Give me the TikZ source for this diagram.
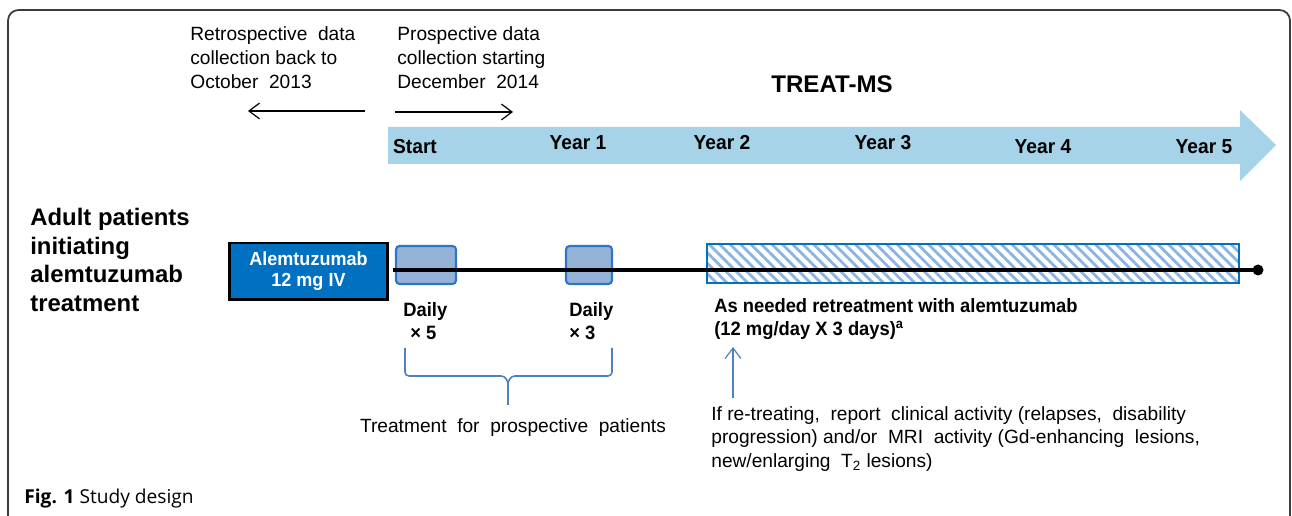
\documentclass[tikz,border=0pt]{standalone}
\usepackage{fontspec}
\setmainfont{Liberation Sans}
\newfontfamily\narrowfont[FakeStretch=0.95]{Liberation Sans}
\newfontfamily\capfont{Open Sans}
\usepackage{tikz}
\usetikzlibrary{arrows.meta, patterns.meta}

\definecolor{bandblue}{RGB}{166,211,232}
\definecolor{alemblue}{RGB}{0,112,192}
\definecolor{dosefill}{RGB}{149,179,215}
\definecolor{doseline}{RGB}{46,117,200}
\definecolor{hatchblue}{RGB}{140,180,226}
\definecolor{braceblue}{RGB}{79,129,189}
\definecolor{framegray}{RGB}{60,60,60}

\begin{document}
\begin{tikzpicture}[x=0.02cm, y=-0.02cm,
		plain/.style={inner sep=0pt, align=left, font=\fontsize{10.9}{13.6}\selectfont},
		yearlbl/.style={inner sep=0pt, font=\narrowfont\bfseries\fontsize{11.5}{13}\selectfont},
		dosebox/.style={draw=doseline, fill=dosefill, line width=1.2pt, rounded corners=2pt, minimum height=0.76cm},
		dosetxt/.style={inner sep=0pt, align=left, font=\narrowfont\bfseries\fontsize{11}{13}\selectfont},
		thinarrow/.style={-{Straight Barb[length=6pt, width=9pt]}, line width=0.7pt}]
	
	\useasboundingbox (0,0) rectangle (1292,516);
	
	% frame, open at the bottom
	\draw[framegray, line width=1pt, rounded corners=6pt] (8,530) -- (8,10) -- (1290,10) -- (1290,530);
	
	% data collection notes
	\node[plain, anchor=west] (retro) at (190,58) {Retrospective\ \ data\\collection back to\\October\ \ 2013};
	\node[plain, anchor=west] (prosp) at (397,58) {Prospective data\\collection starting\\December\ \ 2014};
	\coordinate (retroA) at (365,111);
	\coordinate (retroB) at (248,111);
	\coordinate (prospA) at (395,112);
	\coordinate (prospB) at (513,112);
	\draw[thinarrow] (retroA) -- (retroB);
	\draw[thinarrow] (prospA) -- (prospB);
	
	% study timeline
	\node[inner sep=0pt, font=\bfseries\fontsize{13.7}{15}\selectfont] (treatms) at (832,84) {TREAT-MS};
	\fill[bandblue] (388,127) -- (1240,127) -- (1240,110) -- (1276,145) -- (1240,181) -- (1240,164) -- (388,164) -- cycle;
	\node[yearlbl] (start) at (415,147) {Start};
	\node[yearlbl] (y1) at (578,143) {Year 1};
	\node[yearlbl] (y2) at (722,143) {Year 2};
	\node[yearlbl] (y3) at (883,143) {Year 3};
	\node[yearlbl] (y4) at (1043,147) {Year 4};
	\node[yearlbl] (y5) at (1204,147) {Year 5};
	
	% patients
	\node[inner sep=0pt, anchor=west, align=left, font=\bfseries\fontsize{13.6}{16.2}\selectfont] (adult) at (30,260) {Adult patients\\initiating\\alemtuzumab\\treatment};
	
	% treatment courses
	\node[draw=black, fill=alemblue, line width=1.7pt, minimum width=3.18cm, minimum height=1.14cm, align=center, text=white, font=\narrowfont\bfseries\fontsize{10.8}{12}\selectfont] (alem) at (308.5,271.5) {Alemtuzumab\\12 mg IV};
	\node[dosebox, minimum width=1.2cm] (dose1) at (426,265) {};
	\node[dosebox, minimum width=0.92cm] (dose2) at (589,265) {};
	\node[draw=alemblue, line width=1.2pt, minimum width=10.64cm, minimum height=0.78cm, pattern={Lines[angle=-45, distance=4.2pt, line width=1.6pt]}, pattern color=hatchblue] (retreat) at (973,263.5) {};
	\coordinate (lineend) at (1258,270);
	\draw[line width=2pt] (alem.east |- lineend) ++(4,0) -- (lineend);
	\fill (lineend) circle (5.5);
	
	\node[dosetxt, anchor=west] (daily1) at (403,321) {Daily\\\hspace{4pt}× 5};
	\node[dosetxt, anchor=west] (daily2) at (569,321) {Daily\\× 3};
	
	% brace under the daily doses
	\coordinate (brL) at (405,348);
	\coordinate (brR) at (612,348);
	\coordinate (brTip) at (508,405);
	\draw[braceblue, line width=0.9pt] (brL) -- (405,372) to[out=-90, in=180] (409,376) -- (501,376) to[out=0, in=90] (brTip |- 0,385) -- (brTip);
	\draw[braceblue, line width=0.9pt] (brR) -- (612,372) to[out=-90, in=0] (608,376) -- (515,376) to[out=180, in=90] (brTip |- 0,385);
	\node[plain] (bracelbl) at (513,428) {Treatment\ \ for\ \ prospective\ \ patients};
	
	% retreatment
	\node[dosetxt, anchor=west] (asneeded) at (714,319) {As needed retreatment with alemtuzumab\\(12 mg/day X 3 days)\textsuperscript{a}};
	\node[plain, anchor=west] (ifretreat) at (711,439) {If re-treating,\ \ report\ \ clinical activity (relapses,\ \ disability\\progression) and/or\ \ MRI\ \ activity (Gd-enhancing\ \ lesions,\\new/enlarging\ \ T\textsubscript{2} lesions)};
	\draw[thinarrow, braceblue] (ifretreat.north west -| 733,0) ++(0,-8) -- (733,347);
	
	% caption
	\node[inner sep=0pt, anchor=west, font=\capfont\fontsize{10.9}{12}\selectfont] (caption) at (24,499) {\textbf{Fig. 1} Study design};
	
\end{tikzpicture}
\end{document}
